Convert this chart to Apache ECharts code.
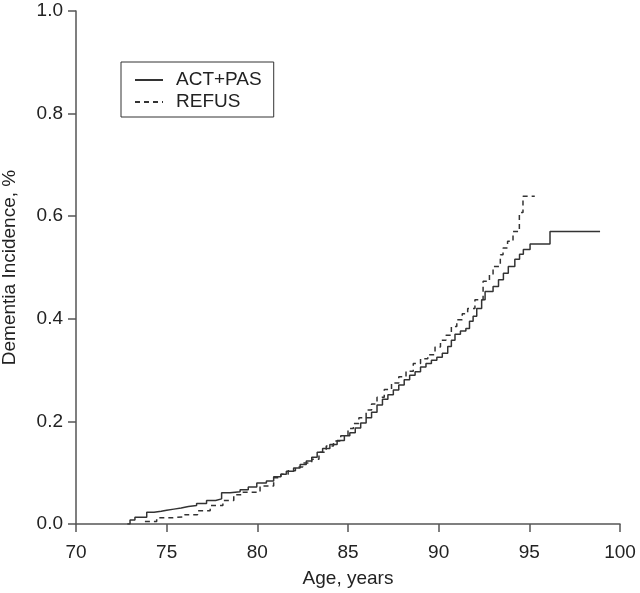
<!DOCTYPE html>
<html>
<head>
<meta charset="utf-8">
<script src="https://cdn.jsdelivr.net/npm/echarts@6/dist/echarts.min.js"></script>
<style>html,body{margin:0;padding:0;background:#fff}#c{width:640px;height:593px}</style>
</head>
<body>
<div id="c"></div>
<script>
var seriesNames = ['ACT+PAS', 'REFUS'];
var xTicks = [70, 75, 80, 85, 90, 95, 100];
var yTicks = [0.0, 0.2, 0.4, 0.6, 0.8, 1.0];

var actAge = [72.83,72.98,73.25,73.90,74.3,74.7,75.0,75.4,75.8,76.2,76.65,77.2,77.7,78.03,78.5,79.05,79.5,79.97,80.5,80.9,81.3,81.6,82.0,82.36,82.7,83.0,83.3,83.6,84.0,84.4,84.8,85.1,85.4,85.7,86.0,86.3,86.6,86.9,87.2,87.5,87.8,88.1,88.4,88.7,89.0,89.3,89.6,89.9,90.2,90.5,90.7,90.9,91.2,91.5,91.7,91.9,92.1,92.37,92.56,93.0,93.3,93.57,93.84,94.2,94.46,94.67,95.04,96.14,98.9];
var actVal = [0.000,0.008,0.013,0.023,0.025,0.027,0.029,0.031,0.034,0.036,0.040,0.046,0.049,0.061,0.063,0.067,0.072,0.080,0.084,0.092,0.097,0.103,0.109,0.116,0.123,0.130,0.140,0.147,0.155,0.163,0.172,0.178,0.187,0.197,0.207,0.218,0.232,0.243,0.252,0.261,0.271,0.281,0.290,0.297,0.306,0.313,0.319,0.325,0.333,0.346,0.358,0.370,0.376,0.381,0.395,0.405,0.420,0.437,0.453,0.463,0.476,0.489,0.502,0.516,0.526,0.535,0.546,0.570,0.570];

var refAge = [73.8,74.45,75.2,76.0,76.7,77.4,78.1,78.7,79.2,80.15,80.9,81.3,81.7,82.1,82.5,83.0,83.4,83.8,84.2,84.6,85.0,85.3,85.6,86.0,86.3,86.6,87.0,87.4,87.8,88.2,88.6,89.0,89.4,89.8,90.1,90.4,90.7,91.0,91.3,91.6,92.0,92.45,92.8,93.0,93.4,93.55,93.8,94.1,94.45,94.65,95.3];
var refVal = [0.005,0.012,0.014,0.018,0.026,0.036,0.046,0.057,0.062,0.074,0.090,0.097,0.104,0.111,0.119,0.126,0.140,0.152,0.162,0.172,0.186,0.196,0.207,0.222,0.234,0.247,0.262,0.275,0.287,0.298,0.313,0.322,0.330,0.345,0.358,0.368,0.385,0.398,0.410,0.420,0.437,0.473,0.486,0.502,0.525,0.538,0.551,0.570,0.607,0.639,0.639];

function zip(a, b) { return a.map(function (v, i) { return [v, b[i]]; }); }

var FONT = '"Liberation Sans", Arial, Helvetica, sans-serif';
var TXT = '#222';
var AX = '#555';

var chart = echarts.init(document.getElementById('c'), null, {renderer: 'canvas'});
chart.setOption({
  animation: false,
  backgroundColor: '#fff',
  grid: {left: 76, top: 11, right: 20, bottom: 69, containLabel: false, outerBoundsMode: 'none'},
  legend: {
    left: 121, top: 62, orient: 'vertical',
    data: seriesNames,
    borderColor: '#333', borderWidth: 1, borderRadius: 0,
    padding: [8, 12, 5, 13],
    itemWidth: 28, itemHeight: 20, itemGap: 2,
    itemStyle: {opacity: 0},
    textStyle: {fontFamily: FONT, fontSize: 19, color: TXT, lineHeight: 20, padding: [0, 0, 0, 8]}
  },
  xAxis: {
    type: 'value', min: xTicks[0], max: xTicks[xTicks.length - 1], interval: 5,
    name: 'Age, years', nameLocation: 'middle', nameGap: 45,
    nameTextStyle: {fontFamily: FONT, fontSize: 19, color: TXT},
    axisLine: {show: true, lineStyle: {color: AX, width: 1.5}},
    axisTick: {show: true, length: 8, lineStyle: {color: AX, width: 1.5}},
    axisLabel: {fontFamily: FONT, fontSize: 19, color: TXT, margin: 19},
    splitLine: {show: false}
  },
  yAxis: {
    type: 'value', min: yTicks[0], max: yTicks[yTicks.length - 1], interval: 0.2,
    name: 'Dementia Incidence, %', nameLocation: 'middle', nameGap: 57,
    nameTextStyle: {fontFamily: FONT, fontSize: 19, color: TXT},
    axisLine: {show: true, lineStyle: {color: AX, width: 1.5}},
    axisTick: {show: true, length: 8, lineStyle: {color: AX, width: 1.5}},
    axisLabel: {fontFamily: FONT, fontSize: 19, color: TXT, margin: 13,
      formatter: function (v) { return v.toFixed(1); }},
    splitLine: {show: false}
  },
  series: [
    {name: seriesNames[0], type: 'line', step: 'end', symbol: 'none', showSymbol: false,
     data: zip(actAge, actVal), lineStyle: {color: '#333', width: 1.5, type: 'solid'}, itemStyle: {color: '#333'}},
    {name: seriesNames[1], type: 'line', step: 'end', symbol: 'none', showSymbol: false,
     data: zip(refAge, refVal), lineStyle: {color: '#333', width: 1.5, type: [5, 4]}, itemStyle: {color: '#333'}}
  ]
});
</script>
</body>
</html>
